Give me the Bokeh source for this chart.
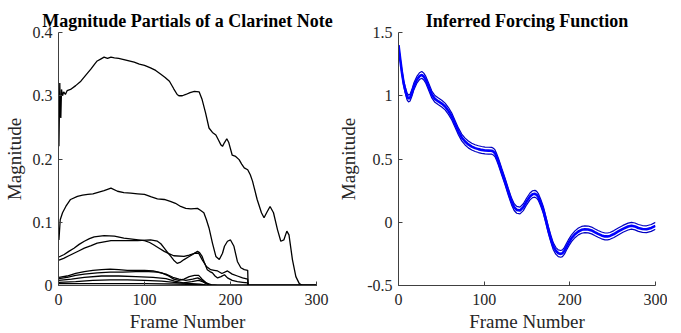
from bokeh.plotting import figure
from bokeh.layouts import row
from bokeh.models import Range1d, FixedTicker
from bokeh.embed import file_html
from bokeh.resources import INLINE

# ---------------- data: left panel (partials) ----------------
p1_frame = [0.5, 1.5, 2.2, 2.7, 3.5, 4.7, 6, 8, 10, 14, 20, 26, 32, 37.6, 42, 45, 49, 53, 57, 61, 65, 70, 76, 82, 88, 94,
            100, 107, 113, 119, 124, 129, 134, 138, 140, 144, 148, 153, 158, 163.6, 167, 171, 175, 179, 183, 186, 189,
            190.7, 193, 195.7, 198, 202, 206, 210, 213, 216, 220, 223, 225.6, 231, 236, 239, 242, 246, 250, 254.7,
            258.5, 262, 265.5, 268, 272, 276, 280, 284, 300]
p1_mag = [0.22, 0.32, 0.27, 0.265, 0.31, 0.30, 0.306, 0.302, 0.308, 0.31, 0.316, 0.323, 0.333, 0.342, 0.35, 0.355, 0.358,
          0.361, 0.359, 0.361, 0.360, 0.359, 0.357, 0.355, 0.353, 0.350, 0.348, 0.344, 0.340, 0.334, 0.329, 0.323,
          0.311, 0.302, 0.300, 0.300, 0.302, 0.305, 0.307, 0.306, 0.294, 0.273, 0.249, 0.242, 0.238, 0.230, 0.222,
          0.220, 0.226, 0.232, 0.226, 0.206, 0.204, 0.199, 0.192, 0.186, 0.183, 0.175, 0.165, 0.136, 0.115, 0.107,
          0.115, 0.125, 0.115, 0.088, 0.070, 0.072, 0.086, 0.080, 0.041, 0.014, 0.003, 0.0, 0.0]

p2_frame = [0.5, 2, 4.7, 8.5, 14, 22, 28, 34, 40, 45, 53, 61, 68.6, 76, 84, 92, 100, 108, 115, 123, 130, 136, 142, 148,
            154, 161.6, 165, 169, 172, 175, 179, 183, 187, 190.7, 193, 196.5, 200, 204, 208, 212, 216, 220, 220.5, 300]
p2_mag = [0.072, 0.104, 0.115, 0.125, 0.136, 0.141, 0.143, 0.144, 0.145, 0.147, 0.150, 0.154, 0.149, 0.147, 0.146,
          0.145, 0.144, 0.140, 0.137, 0.136, 0.133, 0.130, 0.125, 0.122, 0.121, 0.122, 0.119, 0.115, 0.104, 0.091,
          0.067, 0.046, 0.041, 0.051, 0.062, 0.070, 0.072, 0.062, 0.038, 0.028, 0.025, 0.024, 0.0, 0.0]

p3_frame = [0.5, 6.6, 12, 18, 24, 30, 36, 41.5, 53, 65, 76, 88, 100, 106, 111, 117, 123, 129, 134, 146, 152, 158, 163,
            167, 172, 177, 181, 185, 190, 196.5, 202, 208, 214, 220, 220.5, 300]
p3_mag = [0.045, 0.049, 0.054, 0.059, 0.065, 0.070, 0.074, 0.077, 0.079, 0.078, 0.075, 0.073, 0.071, 0.068, 0.064,
          0.059, 0.054, 0.050, 0.047, 0.046, 0.048, 0.051, 0.051, 0.041, 0.030, 0.025, 0.024, 0.023, 0.019, 0.023,
          0.018, 0.015, 0.012, 0.010, 0.0, 0.0]

p4_frame = [0.5, 6, 12, 18, 24, 30, 38, 45, 53, 61, 76, 92, 107, 115, 119, 123, 127, 130.6, 134, 138, 142, 146, 151,
            156, 161.6, 164, 167, 170, 173, 176, 179, 182, 185, 189, 193, 196.5, 202, 208, 214, 220, 220.5, 300]
p4_mag = [0.040, 0.043, 0.047, 0.051, 0.055, 0.059, 0.063, 0.067, 0.069, 0.071, 0.071, 0.071, 0.072, 0.070, 0.066,
          0.059, 0.052, 0.046, 0.040, 0.035, 0.037, 0.041, 0.045, 0.049, 0.054, 0.052, 0.046, 0.035, 0.025, 0.022,
          0.020, 0.015, 0.012, 0.014, 0.017, 0.012, 0.008, 0.006, 0.005, 0.004, 0.0, 0.0]

p5_frame = [0.5, 10, 20, 30, 40, 50, 60, 70, 80, 90, 100, 110, 120, 128, 134, 140, 146, 152, 158, 163, 167, 172, 176, 300]
p5_mag = [0.013, 0.015, 0.019, 0.022, 0.024, 0.025, 0.026, 0.025, 0.024, 0.024, 0.024, 0.023, 0.020, 0.015, 0.010,
          0.008, 0.010, 0.014, 0.016, 0.016, 0.010, 0.004, 0.0, 0.0]

p6_frame = [0.5, 10, 20, 30, 45, 60, 75, 90, 105, 115, 125, 133, 140, 148, 156, 162, 166, 170, 175, 185, 300]
p6_mag = [0.011, 0.013, 0.016, 0.018, 0.020, 0.021, 0.021, 0.022, 0.022, 0.021, 0.018, 0.013, 0.010, 0.008, 0.010,
          0.012, 0.009, 0.004, 0.001, 0.0, 0.0]

p7_frame = [0.5, 15, 30, 50, 70, 90, 110, 125, 135, 145, 155, 163, 170, 178, 185, 300]
p7_mag = [0.008, 0.010, 0.013, 0.015, 0.015, 0.014, 0.013, 0.011, 0.007, 0.004, 0.006, 0.008, 0.005, 0.001, 0.0, 0.0]

p8_frame = [0.5, 20, 40, 60, 80, 100, 120, 140, 155, 165, 175, 300]
p8_mag = [0.005, 0.006, 0.008, 0.009, 0.009, 0.008, 0.007, 0.004, 0.003, 0.002, 0.0, 0.0]

p9_frame = [0.5, 50, 100, 150, 165, 175, 300]
p9_mag = [0.003, 0.003, 0.003, 0.002, 0.001, 0.0, 0.0]

partials = [(p1_frame, p1_mag), (p2_frame, p2_mag), (p3_frame, p3_mag), (p4_frame, p4_mag), (p5_frame, p5_mag),
            (p6_frame, p6_mag), (p7_frame, p7_mag), (p8_frame, p8_mag), (p9_frame, p9_mag)]

# ---------------- data: right panel (forcing function) ----------------
force_frame = [0, 2, 3.9, 6, 7.8, 10, 11.7, 13.5, 15.5, 18, 21.4, 24.5, 27.2, 29.5, 31.9, 35, 38.9, 42.5, 46.6, 50.5,
               54.4, 58.3, 62.2, 66, 70, 73.8, 77.7, 81.5, 85.5, 89.5, 93.3, 97, 101, 105, 108.8, 110.8, 112.7, 114.6,
               116.6, 120.5, 124.4, 128.2, 132, 135, 138, 141.8, 145.7, 149.6, 153.5, 156.5, 159.3, 161.3, 163.2, 166,
               169, 172, 174.9, 177.8, 180.7, 183.6, 186.5, 189.4, 191.4, 193.7, 196, 199, 202, 206, 210, 213.8,
               217.6, 221.5, 225.4, 229, 233, 237, 241, 244, 246.8, 251.5, 256.5, 262, 268, 272, 276, 280, 284.8,
               289.5, 295, 300]
force_mean = [1.40, 1.29, 1.19, 1.10, 1.047, 0.995, 0.978, 0.985, 1.02, 1.075, 1.126, 1.155, 1.165, 1.152, 1.126, 1.075,
              1.01, 0.975, 0.955, 0.938, 0.915, 0.88, 0.836, 0.778, 0.717, 0.67, 0.638, 0.615, 0.598, 0.586, 0.578,
              0.572, 0.567, 0.566, 0.565, 0.558, 0.545, 0.515, 0.480, 0.40, 0.322, 0.24, 0.164, 0.12, 0.098, 0.093,
              0.119, 0.165, 0.204, 0.222, 0.225, 0.217, 0.20, 0.155, 0.098, 0.02, -0.06, -0.13, -0.19, -0.225,
              -0.245, -0.25, -0.245, -0.225, -0.195, -0.158, -0.126, -0.095, -0.073, -0.06, -0.055, -0.057, -0.065,
              -0.078, -0.092, -0.104, -0.112, -0.112, -0.108, -0.093, -0.073, -0.052, -0.034, -0.028, -0.033, -0.045,
              -0.053, -0.055, -0.045, -0.028]
force_halfwidth = [0.0, 0.008, 0.015, 0.02, 0.024] + [0.027] * (len(force_mean) - 5)

# ---------------- ticks ----------------
x_ticks = [0, 100, 200, 300]
x_tick_labels = ["0", "100", "200", "300"]
left_y_ticks = [0, 0.1, 0.2, 0.3, 0.4]
left_y_tick_labels = ["0", "0.1", "0.2", "0.3", "0.4"]
right_y_ticks = [-0.5, 0, 0.5, 1, 1.5]
right_y_tick_labels = ["-0.5", "0", "0.5", "1", "1.5"]

FONT = "Liberation Serif"
TEXT = "#262626"
AXIS = "#404040"


def make_fig(title, fw, border_left, border_right, yr, yticks, ylabels):
    p = figure(frame_width=fw, frame_height=253, output_backend="svg", toolbar_location=None,
               x_range=Range1d(0, 300), y_range=Range1d(*yr),
               min_border_left=border_left, min_border_right=border_right,
               min_border_top=32, min_border_bottom=20)
    p.title.text = title
    p.title.align = "center"
    p.title.text_font = FONT
    p.title.text_font_size = "18px"
    p.title.text_font_style = "bold"
    p.title.text_color = "black"
    p.title.standoff = 3
    p.outline_line_color = None
    p.xgrid.visible = False
    p.ygrid.visible = False
    p.background_fill_color = "white"
    p.border_fill_color = "white"
    for ax in (p.xaxis[0], p.yaxis[0]):
        ax.axis_line_color = AXIS
        ax.axis_line_width = 1
        ax.major_tick_line_color = AXIS
        ax.major_tick_in = 4
        ax.major_tick_out = 0
        ax.minor_tick_line_color = None
        ax.major_label_text_font = FONT
        ax.major_label_text_font_size = "16px"
        ax.major_label_text_color = TEXT
        ax.axis_label_text_font = FONT
        ax.axis_label_text_font_size = "19px"
        ax.axis_label_text_font_style = "normal"
        ax.axis_label_text_color = TEXT
    p.xaxis.ticker = FixedTicker(ticks=x_ticks)
    p.xaxis.major_label_overrides = dict(zip(x_ticks, x_tick_labels))
    p.yaxis.ticker = FixedTicker(ticks=yticks)
    p.yaxis.major_label_overrides = dict(zip(yticks, ylabels))
    p.xaxis.axis_label = "Frame Number"
    p.yaxis.axis_label = "Magnitude"
    p.xaxis.major_label_standoff = 8
    p.xaxis.axis_label_standoff = 3
    p.yaxis.major_label_standoff = 6
    p.yaxis.axis_label_standoff = 5
    return p


p_left = make_fig("Magnitude Partials of a Clarinet Note", 258, 57, 17, (0, 0.4), left_y_ticks, left_y_tick_labels)
for fr, mg in partials:
    p_left.line(fr, mg, line_color="black", line_width=1.3)

p_right = make_fig("Inferred Forcing Function", 257, 65, 12, (-0.5, 1.5), right_y_ticks, right_y_tick_labels)
upper = [m + h for m, h in zip(force_mean, force_halfwidth)]
lower = [m - h for m, h in zip(force_mean, force_halfwidth)]
p_right.line(force_frame, upper, line_color="#0000c0", line_width=1.2)
p_right.line(force_frame, lower, line_color="#0000c0", line_width=1.2)
p_right.line(force_frame, force_mean, line_color="#0000ff", line_width=2.6)

layout = row(p_left, p_right)
open("out.html", "w").write(file_html(layout, INLINE))
